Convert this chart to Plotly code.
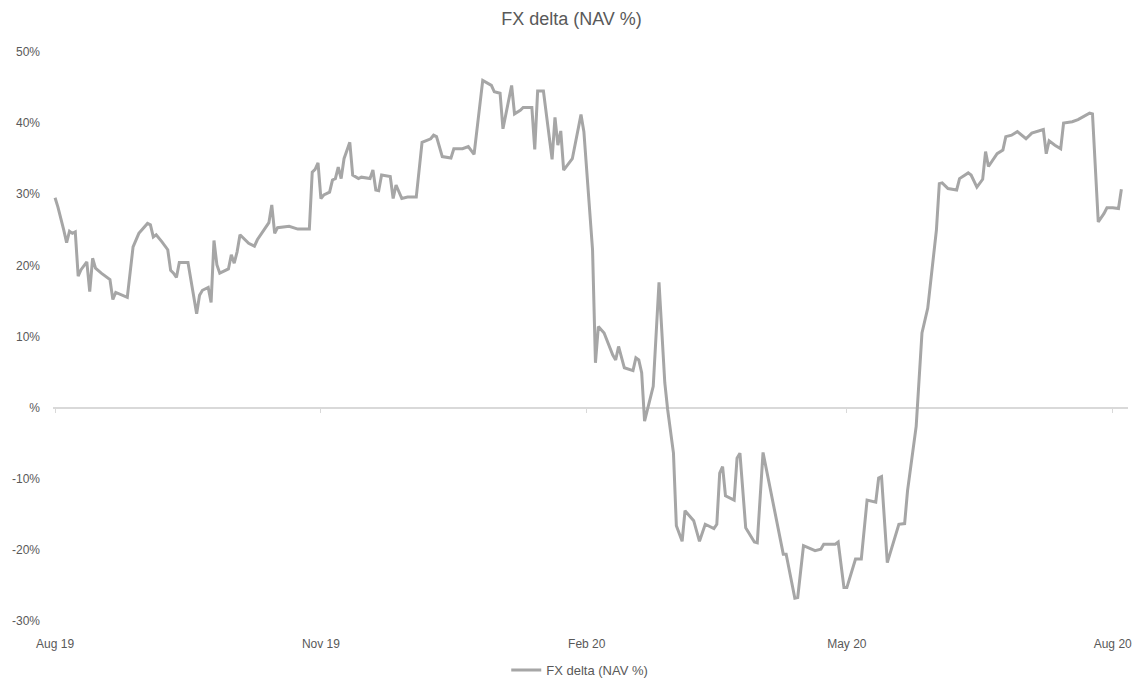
import plotly.graph_objects as go

# FX delta as a share of NAV (%), daily observations
dates = [
    "2019-08-01", "2019-08-02", "2019-08-04", "2019-08-05", "2019-08-06", "2019-08-07", "2019-08-08",
    "2019-08-09", "2019-08-10", "2019-08-12", "2019-08-13", "2019-08-14", "2019-08-15", "2019-08-17",
    "2019-08-20", "2019-08-21", "2019-08-22", "2019-08-24", "2019-08-26", "2019-08-28", "2019-08-30",
    "2019-09-02", "2019-09-03", "2019-09-04", "2019-09-05", "2019-09-07", "2019-09-09", "2019-09-10",
    "2019-09-11", "2019-09-12", "2019-09-13", "2019-09-16", "2019-09-17", "2019-09-19", "2019-09-20",
    "2019-09-21", "2019-09-23", "2019-09-24", "2019-09-25", "2019-09-26", "2019-09-27", "2019-09-30",
    "2019-10-01", "2019-10-02", "2019-10-03", "2019-10-04", "2019-10-07", "2019-10-09", "2019-10-10",
    "2019-10-14", "2019-10-15", "2019-10-16", "2019-10-17", "2019-10-21", "2019-10-24", "2019-10-28",
    "2019-10-29", "2019-10-30", "2019-10-31", "2019-11-01", "2019-11-02", "2019-11-04", "2019-11-05",
    "2019-11-06", "2019-11-07", "2019-11-08", "2019-11-09", "2019-11-11", "2019-11-12", "2019-11-14",
    "2019-11-15", "2019-11-18", "2019-11-19", "2019-11-20", "2019-11-21", "2019-11-22", "2019-11-25",
    "2019-11-26", "2019-11-27", "2019-11-28", "2019-11-29", "2019-12-01", "2019-12-04", "2019-12-06",
    "2019-12-08", "2019-12-09", "2019-12-10", "2019-12-11", "2019-12-13", "2019-12-16", "2019-12-17",
    "2019-12-20", "2019-12-22", "2019-12-24", "2019-12-27", "2019-12-30", "2019-12-31", "2020-01-02",
    "2020-01-03", "2020-01-06", "2020-01-07", "2020-01-09", "2020-01-10", "2020-01-13", "2020-01-14",
    "2020-01-15", "2020-01-17", "2020-01-20", "2020-01-21", "2020-01-22", "2020-01-23", "2020-01-24",
    "2020-01-27", "2020-01-30", "2020-01-31", "2020-02-03", "2020-02-04", "2020-02-05", "2020-02-07",
    "2020-02-10", "2020-02-11", "2020-02-12", "2020-02-14", "2020-02-17", "2020-02-18", "2020-02-19",
    "2020-02-20", "2020-02-21", "2020-02-24", "2020-02-26", "2020-02-28", "2020-02-29", "2020-03-02",
    "2020-03-03", "2020-03-05", "2020-03-06", "2020-03-09", "2020-03-11", "2020-03-13", "2020-03-16",
    "2020-03-17", "2020-03-18", "2020-03-19", "2020-03-20", "2020-03-23", "2020-03-24", "2020-03-25",
    "2020-03-27", "2020-03-30", "2020-03-31", "2020-04-02", "2020-04-09", "2020-04-10", "2020-04-13",
    "2020-04-14", "2020-04-16", "2020-04-20", "2020-04-22", "2020-04-23", "2020-04-27", "2020-04-28",
    "2020-04-30", "2020-05-01", "2020-05-04", "2020-05-06", "2020-05-08", "2020-05-11", "2020-05-12",
    "2020-05-13", "2020-05-15", "2020-05-19", "2020-05-21", "2020-05-22", "2020-05-25", "2020-05-27",
    "2020-05-29", "2020-06-01", "2020-06-02", "2020-06-03", "2020-06-05", "2020-06-08", "2020-06-09",
    "2020-06-12", "2020-06-13", "2020-06-15", "2020-06-17", "2020-06-18", "2020-06-19", "2020-06-22",
    "2020-06-24", "2020-06-25", "2020-06-27", "2020-06-29", "2020-07-02", "2020-07-04", "2020-07-06",
    "2020-07-08", "2020-07-09", "2020-07-10", "2020-07-12", "2020-07-14", "2020-07-15", "2020-07-18",
    "2020-07-20", "2020-07-22", "2020-07-24", "2020-07-25", "2020-07-27", "2020-07-29", "2020-07-30",
    "2020-08-01", "2020-08-03", "2020-08-04",
]

fx_delta = [
    29.5, 28.2, 25.0, 23.2, 24.8, 24.5, 24.7,
    18.5, 19.4, 20.5, 16.3, 21.0, 19.6, 18.9,
    18.0, 15.2, 16.2, 15.8, 15.5, 22.6, 24.5,
    25.9, 25.7, 24.0, 24.3, 23.3, 22.2, 19.3,
    18.9, 18.3, 20.4, 20.4, 18.0, 13.2, 15.8,
    16.5, 16.9, 14.8, 23.5, 20.1, 18.9, 19.5,
    21.5, 20.3, 21.9, 24.3, 23.1, 22.7, 23.6,
    26.0, 28.5, 24.5, 25.3, 25.5, 25.1, 25.1,
    33.1, 33.5, 34.4, 29.4, 29.9, 30.3, 32.0,
    32.2, 33.8, 32.2, 35.0, 37.3, 32.7, 32.2,
    32.4, 32.2, 33.4, 30.6, 30.5, 32.7, 32.5,
    29.4, 31.3, 30.3, 29.4, 29.6, 29.6, 37.3,
    37.6, 37.8, 38.3, 38.1, 35.3, 35.1, 36.4,
    36.4, 36.7, 35.6, 46.0, 45.3, 44.4, 44.2,
    39.2, 45.3, 41.3, 41.8, 42.2, 42.2, 36.3,
    44.5, 44.5, 34.9, 40.8, 36.9, 38.9, 33.4,
    35.0, 41.2, 38.8, 22.2, 6.3, 11.4, 10.5,
    7.4, 6.7, 8.6, 5.6, 5.2, 7.0, 6.7,
    4.9, -1.9, 3.0, 17.6, 3.5, -0.3, -6.4,
    -16.6, -18.8, -14.5, -15.9, -18.8, -16.4, -17.0,
    -16.4, -9.2, -8.3, -12.4, -13.0, -7.1, -6.4,
    -16.9, -18.9, -19.0, -6.3, -20.6, -20.6, -26.8,
    -26.7, -19.4, -20.1, -19.9, -19.2, -19.2, -18.9,
    -25.3, -25.3, -21.3, -21.3, -13.0, -13.3, -9.9,
    -9.7, -21.8, -16.4, -16.3, -11.7, -2.6, 10.5,
    14.0, 25.0, 31.5, 31.6, 30.8, 30.6, 32.2,
    33.0, 32.7, 31.0, 32.1, 36.0, 33.9, 35.7,
    36.2, 38.1, 38.3, 38.8, 37.8, 38.6, 38.9,
    39.1, 35.7, 37.5, 36.9, 36.4, 40.0, 40.2,
    40.5, 40.9, 41.4, 41.3, 26.1, 27.3, 28.1,
    28.1, 28.0, 30.7,
]

# Axis ticks
x_tick_vals = ["2019-08-01", "2019-11-01", "2020-02-01", "2020-05-01", "2020-08-01"]
x_tick_text = ["Aug 19", "Nov 19", "Feb 20", "May 20", "Aug 20"]
y_tick_vals = [-30, -20, -10, 0, 10, 20, 30, 40, 50]
y_tick_text = ["-30%", "-20%", "-10%", "%", "10%", "20%", "30%", "40%", "50%"]

series_name = "FX delta (NAV %)"
y_min, y_max = -30, 50
x_range = ["2019-07-31 07:00", "2020-08-06 07:00"]

font_family = "Liberation Sans, Arial, sans-serif"
text_color = "#595959"
line_color = "#A6A6A6"
axis_color = "#D9D9D9"

fig = go.Figure()
fig.add_trace(go.Scatter(
    x=dates, y=fx_delta, mode="lines", name=series_name,
    line=dict(color=line_color, width=3),
))
# Companion axis carrying the tick marks along the zero line
fig.add_trace(go.Scatter(
    x=dates, y=fx_delta, mode="lines", xaxis="x2", showlegend=False,
    line=dict(color="rgba(0,0,0,0)", width=0), hoverinfo="skip",
))

zero_pos = (0 - y_min) / (y_max - y_min)

fig.update_layout(
    width=1143, height=679,
    margin=dict(l=53, r=15, t=52, b=58, autoexpand=False),
    paper_bgcolor="white", plot_bgcolor="white",
    font=dict(family=font_family, color=text_color, size=11),
    title=dict(text=series_name, x=0.5, xanchor="center", y=1 - 19 / 679, yanchor="middle",
               font=dict(size=18, color=text_color)),
    showlegend=True,
    legend=dict(orientation="h", x=0.49, xanchor="center", yref="container",
                y=(679 - 670) / 679, yanchor="middle",
                font=dict(size=13, color=text_color)),
    xaxis=dict(
        type="date", range=x_range, tickvals=x_tick_vals, ticktext=x_tick_text,
        showgrid=False, showline=False, ticks="", zeroline=False,
        tickfont=dict(size=12, color=text_color), ticklabelstandoff=14,
    ),
    xaxis2=dict(
        type="date", range=x_range, overlaying="x", anchor="free", position=zero_pos,
        matches="x", tickvals=x_tick_vals, showticklabels=False, showgrid=False,
        showline=False, ticks="outside", ticklen=4, tickcolor=axis_color, tickwidth=1,
    ),
    yaxis=dict(
        range=[y_min, y_max], tickvals=y_tick_vals, ticktext=y_tick_text,
        showgrid=False, showline=False, ticks="",
        zeroline=True, zerolinecolor=axis_color, zerolinewidth=2,
        tickfont=dict(size=12, color=text_color), ticklabelstandoff=12,
    ),
)

fig.write_html("out.html")
